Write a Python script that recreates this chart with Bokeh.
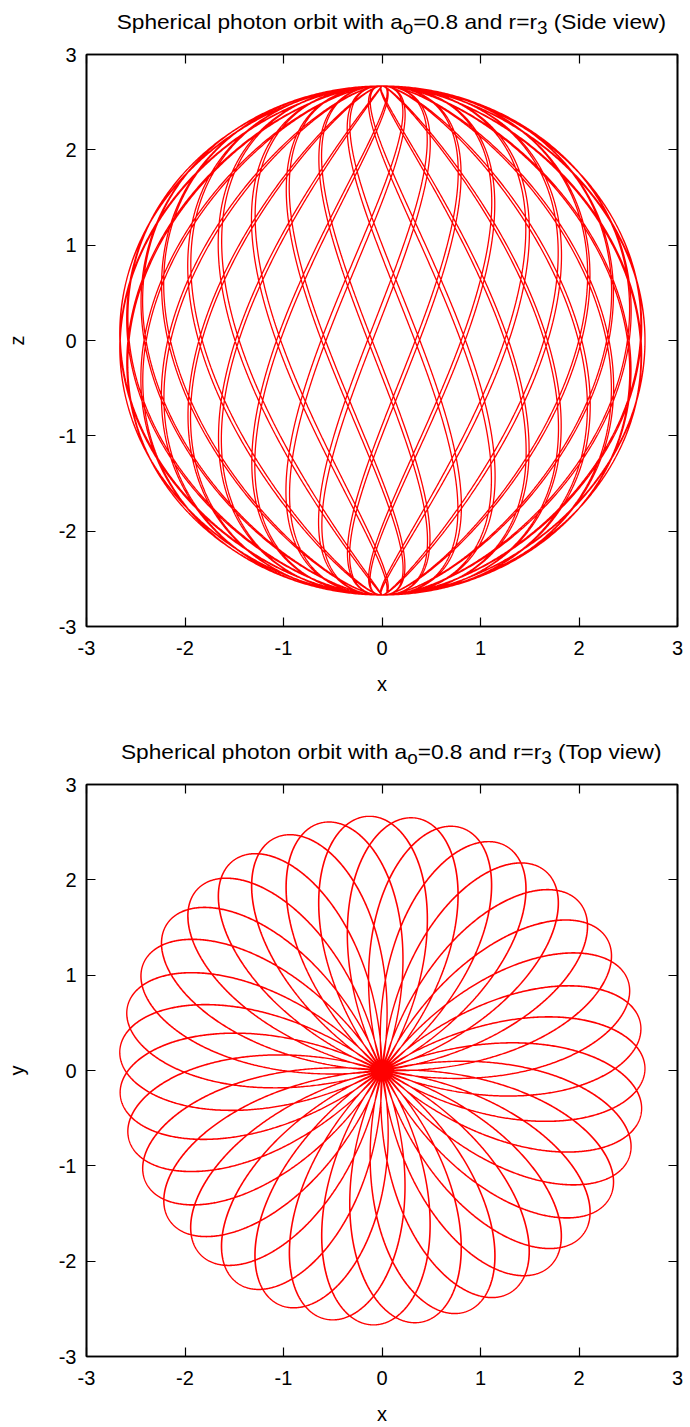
import numpy as np
from bokeh.plotting import figure
from bokeh.models import LinearAxis, Range1d, FixedTicker, Div
from bokeh.layouts import column
from bokeh.embed import file_html
from bokeh.resources import INLINE

# ---- orbit parameters ----
spin = 0.8                  # a_o
orbit_radius = 2.67         # r = r_3 : polar spherical photon orbit
azimuth_sweep_deg = 66.86   # azimuth gained on each pole-to-pole passage
passages = 70               # pole-to-pole passages drawn
start_azimuth_deg = 0.4     # azimuth at the first equator crossing

# ---- axes ----
axis_ticks = [-3, -2, -1, 0, 1, 2, 3]
axis_tick_labels = ["-3", "-2", "-1", "0", "1", "2", "3"]

# ---- titles ----
side_title = "Spherical photon orbit with a<sub>o</sub>=0.8 and r=r<sub>3</sub> (Side view)"
top_title = "Spherical photon orbit with a<sub>o</sub>=0.8 and r=r<sub>3</sub> (Top view)"
side_axis_names = ("x", "z")
top_axis_names = ("x", "y")

FONT = "Liberation Sans"
FS = 20
TITLE_FS = 21

# ---- the orbit on the sphere r = r_3 ----
r = orbit_radius
a = spin
delta_r = r * r - 2 * r + a * a
carter = (r * r + a * a) ** 2 / delta_r - a * a
theta = np.pi / 2 + np.linspace(0.0, passages * np.pi, passages * 500 + 1)
rate = 1.0 / np.sqrt(carter + a * a * np.cos(theta) ** 2)
lam = np.concatenate([[0.0], np.cumsum(0.5 * (rate[1:] + rate[:-1]) * np.diff(theta))])
lam_per_passage = lam[-1] / passages
phi = np.radians(start_azimuth_deg) + np.radians(azimuth_sweep_deg) * lam / lam_per_passage

orb_x = r * np.sin(theta) * np.cos(phi)
orb_y = r * np.sin(theta) * np.sin(phi)
orb_z = r * np.cos(theta)

FRAME_LEFT, FRAME_RIGHT = 86, 13


def style_axis(ax, show_labels):
    ax.ticker = FixedTicker(ticks=axis_ticks)
    ax.major_label_overrides = {t: s for t, s in zip(axis_ticks, axis_tick_labels)}
    ax.major_tick_in = 9
    ax.major_tick_out = 0
    ax.minor_tick_line_color = None
    ax.major_tick_line_color = "black"
    ax.major_tick_line_width = 1.2
    ax.axis_line_color = "black"
    ax.axis_line_width = 1.6
    ax.major_label_text_font = FONT
    if show_labels:
        ax.major_label_text_color = "black"
        ax.major_label_text_font_size = f"{FS}px"
    else:
        ax.major_label_text_color = None
        ax.major_label_text_font_size = "1px"
        ax.major_label_standoff = 0


def title_div(html, height, pad_top):
    inner = ('<span style="display:inline-block; transform:scaleX(1.08); '
             'transform-origin:50% 50%;">' + html + '</span>')
    return Div(text=inner, width=690, height=height, margin=0,
               styles={"font-family": FONT, "font-size": f"{TITLE_FS}px", "color": "black",
                       "line-height": f"{TITLE_FS}px", "text-align": "center",
                       "padding-top": f"{pad_top}px", "padding-left": "92px",
                       "box-sizing": "border-box", "width": "690px", "white-space": "nowrap"})


def panel(xs, ys, names, height, bottom):
    p = figure(width=690, height=height, x_range=Range1d(-3, 3), y_range=Range1d(-3, 3),
               output_backend="svg", toolbar_location=None,
               min_border_left=FRAME_LEFT, min_border_right=FRAME_RIGHT,
               min_border_top=10, min_border_bottom=bottom,
               x_axis_label=names[0], y_axis_label=names[1], margin=0)
    p.grid.visible = False
    p.outline_line_color = "black"
    p.outline_line_width = 1.6
    p.background_fill_color = "white"
    p.border_fill_color = "white"

    for ax in p.xaxis:
        style_axis(ax, True)
        ax.major_label_standoff = 14
        ax.axis_label_standoff = 15
    for ax in p.yaxis:
        style_axis(ax, True)
        ax.major_label_standoff = 10
        ax.axis_label_standoff = 28
    for ax in list(p.xaxis) + list(p.yaxis):
        ax.axis_label_text_font = FONT
        ax.axis_label_text_font_size = f"{FS}px"
        ax.axis_label_text_font_style = "normal"
        ax.axis_label_text_color = "black"

    top_ax = LinearAxis()
    style_axis(top_ax, False)
    p.add_layout(top_ax, "above")
    right_ax = LinearAxis()
    style_axis(right_ax, False)
    p.add_layout(right_ax, "right")

    p.line(xs, ys, line_color="#ff0000", line_width=1.3)
    return p


t_side = title_div(side_title, 44, 11)
p_side = panel(orb_x, orb_z, side_axis_names, 669, 87)
t_top = title_div(top_title, 61, 28)
p_top = panel(orb_x, orb_y, top_axis_names, 653, 71)

layout = column(t_side, p_side, t_top, p_top, spacing=0)
open("out.html", "w").write(file_html(layout, INLINE))
